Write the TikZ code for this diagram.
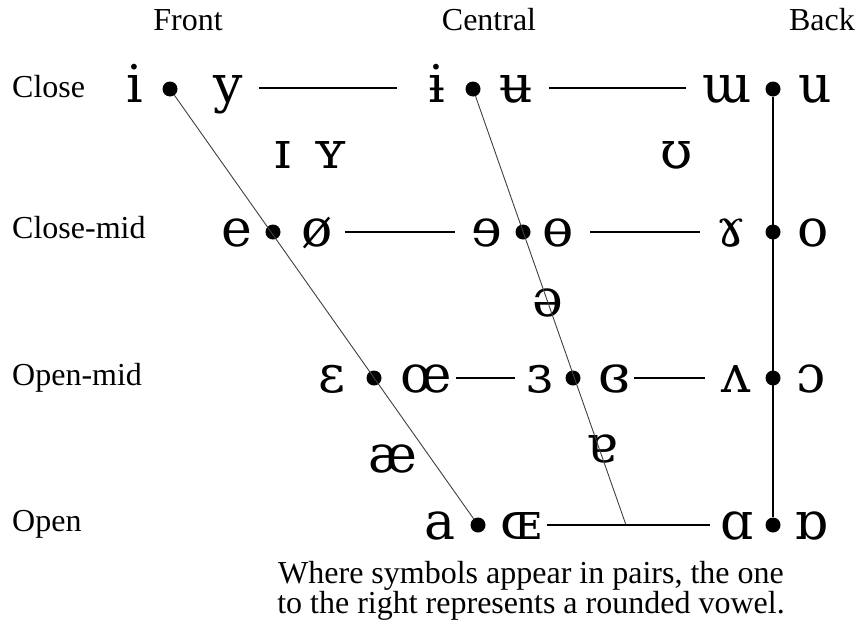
\documentclass[tikz,border=0pt]{standalone}
\usepackage{fontspec}
\setmainfont{Liberation Serif}
\newfontfamily\ipafont{DejaVu Serif}
\tikzstyle{vowel} = [inner sep=0pt, font=\ipafont\fontsize{52}{58}\selectfont,
    text height=28pt, text depth=0pt]
\tikzstyle{vdot} = [circle, fill=black, inner sep=0pt, minimum size=15pt]
\tikzstyle{hline} = [line width=1.6pt, shorten <=16pt, shorten >=16pt]
\tikzstyle{slant} = [line width=0.9pt, black!75]
\tikzstyle{rowlabel} = [anchor=west, inner sep=0pt, font=\fontsize{32}{38}\selectfont]
\tikzstyle{collabel} = [inner sep=0pt, font=\fontsize{32}{38}\selectfont]

\begin{document}
\begin{tikzpicture}[x=1pt,y=-1pt]
\useasboundingbox (0,0) rectangle (860,624);
% headings
\node[collabel] (front) at (188,20) {Front};
\node[collabel] (central) at (489,20) {Central};
\node[collabel] (back) at (822,20) {Back};
\node[rowlabel] (close) at (12,87) {Close};
\node[rowlabel] (closemid) at (12,228) {Close-mid};
\node[rowlabel] (openmid) at (12,378) {Open-mid};
\node[rowlabel] (open) at (12,524) {Open};
% dots
\node[vdot] (cf) at (170,89) {};
\node[vdot] (cc) at (473,89) {};
\node[vdot] (cb) at (773,89) {};
\node[vdot] (cmf) at (273,232) {};
\node[vdot] (cmc) at (523,232) {};
\node[vdot] (cmb) at (773,232) {};
\node[vdot] (omf) at (374,378) {};
\node[vdot] (omc) at (573,378) {};
\node[vdot] (omb) at (773,378) {};
\node[vdot] (of) at (478,525) {};
\node[vdot] (ob) at (773,525) {};
\coordinate (cbot) at (626,525);
% vowels
\node[vowel] (i) at (135,88) {i};
\node[vowel] (y) at (228,88) {y};
\node[vowel] (ibar) at (437,88) {ɨ};
\node[vowel] (ubar) at (516,88) {ʉ};
\node[vowel] (turnm) at (727,88) {ɯ};
\node[vowel] (u) at (815,88) {u};
\node[vowel] (smalli) at (283,154) {ɪ};
\node[vowel] (smally) at (331,154) {ʏ};
\node[vowel] (horseshoe) at (677,154) {ʊ};
\node[vowel] (e) at (237,232) {e};
\node[vowel] (oslash) at (317,232) {ø};
\node[vowel] (reve) at (487,232) {ɘ};
\node[vowel] (obar) at (558,232) {ɵ};
\node[vowel] (ramshorn) at (731,232) {ɤ};
\node[vowel] (o) at (813,232) {o};
\node[vowel] (schwa) at (548,302) {ə};
\node[vowel] (epsilon) at (332,378) {ɛ};
\node[vowel] (oe) at (426,378) {œ};
\node[vowel] (revepsilon) at (540,378) {ɜ};
\node[vowel] (closedrev) at (614,378) {ɞ};
\node[vowel] (turnv) at (736,378) {ʌ};
\node[vowel] (openo) at (811,378) {ɔ};
\node[vowel] (ash) at (393,458) {æ};
\node[vowel] (turna) at (602,448) {ɐ};
\node[vowel] (a) at (440,525) {a};
\node[vowel] (OE) at (521,525) {ɶ};
\node[vowel] (scripta) at (737,525) {ɑ};
\node[vowel] (turnscripta) at (811,525) {ɒ};
% lines
\draw[slant] (cf) -- (of);
\draw[slant] (cc) -- (cbot);
\draw[line width=1.6pt] (cb) -- (ob);
\draw[hline, shorten >=31pt] (y) -- (ibar);
\draw[hline] (ubar) -- (turnm);
\draw[hline, shorten <=12pt] (oslash) -- (reve);
\draw[hline] (obar) -- (ramshorn);
\draw[hline, shorten <=4pt, shorten >=12pt] (oe) -- (revepsilon);
\draw[hline, shorten <=4pt] (closedrev) -- (turnv);
\draw[hline, shorten <=5pt, shorten >=10pt] (OE) -- (scripta);
\node[align=center, inner sep=0pt, font=\fontsize{32}{30}\selectfont] (note) at (531,591)
    {Where symbols appear in pairs, the one\\to the right represents a rounded vowel.};
\end{tikzpicture}
\end{document}
